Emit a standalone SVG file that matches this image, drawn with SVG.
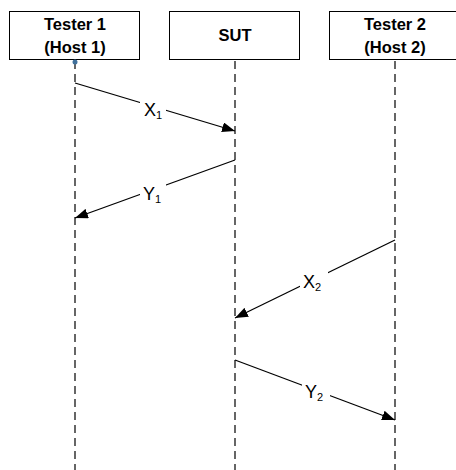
<svg xmlns="http://www.w3.org/2000/svg" width="456" height="470" viewBox="0 0 456 470">
<style>
.box{fill:#fff;stroke:#000;stroke-width:1}
.hdr{font-family:"Liberation Sans",Arial,sans-serif;font-weight:bold;font-size:16.5px;text-anchor:middle;fill:#000}
.life{stroke:#000;stroke-width:1.2;stroke-dasharray:8 5;fill:none}
.msg{stroke:#000;stroke-width:1.3;fill:none;marker-end:url(#ah)}
.lbl{font-family:"Liberation Sans",Arial,sans-serif;font-size:18px;fill:#000}
.sub{font-size:11px}
.bg{fill:#fff}
</style>
<defs>
<marker id="ah" markerUnits="userSpaceOnUse" markerWidth="14" markerHeight="10" refX="13" refY="5" orient="auto">
<path d="M0,0 L13,5 L0,10 Z" fill="#000"/>
</marker>
</defs>
<rect width="456" height="470" fill="#fff"/>
<g id="lifelines">
<line class="life" x1="75" y1="61" x2="75" y2="470"/>
<line class="life" x1="235" y1="61" x2="235" y2="470"/>
<line class="life" x1="395" y1="61" x2="395" y2="470"/>
</g>
<g id="tester1">
<rect class="box" x="9.5" y="11.5" width="130" height="48"/>
<text class="hdr" x="75" y="30">Tester 1</text>
<text class="hdr" x="75" y="53">(Host 1)</text>
<circle cx="75" cy="62" r="2.5" fill="#41719C"/>
</g>
<g id="sut">
<rect class="box" x="169.5" y="11.5" width="130" height="48"/>
<text class="hdr" x="235" y="41">SUT</text>
</g>
<g id="tester2">
<rect class="box" x="329.5" y="11.5" width="132" height="48"/>
<text class="hdr" x="395" y="30">Tester 2</text>
<text class="hdr" x="395" y="53">(Host 2)</text>
</g>
<g id="connectors">
<line class="msg" x1="75" y1="83" x2="235" y2="131"/>
<line class="msg" x1="235" y1="160" x2="75" y2="218"/>
<line class="msg" x1="395" y1="240" x2="235" y2="318"/>
<line class="msg" x1="235" y1="360" x2="395" y2="420"/>
</g>
<g id="labels">
<rect class="bg" x="140" y="101" width="26" height="20"/>
<text class="lbl" x="144" y="116">X<tspan class="sub" dy="3">1</tspan></text>
<rect class="bg" x="140" y="184" width="26" height="20"/>
<text class="lbl" x="143" y="200">Y<tspan class="sub" dy="3">1</tspan></text>
<rect class="bg" x="300" y="272" width="28" height="21"/>
<text class="lbl" x="303" y="288">X<tspan class="sub" dy="3">2</tspan></text>
<rect class="bg" x="302" y="383" width="28" height="20"/>
<text class="lbl" x="305" y="398">Y<tspan class="sub" dy="3">2</tspan></text>
</g>
</svg>
